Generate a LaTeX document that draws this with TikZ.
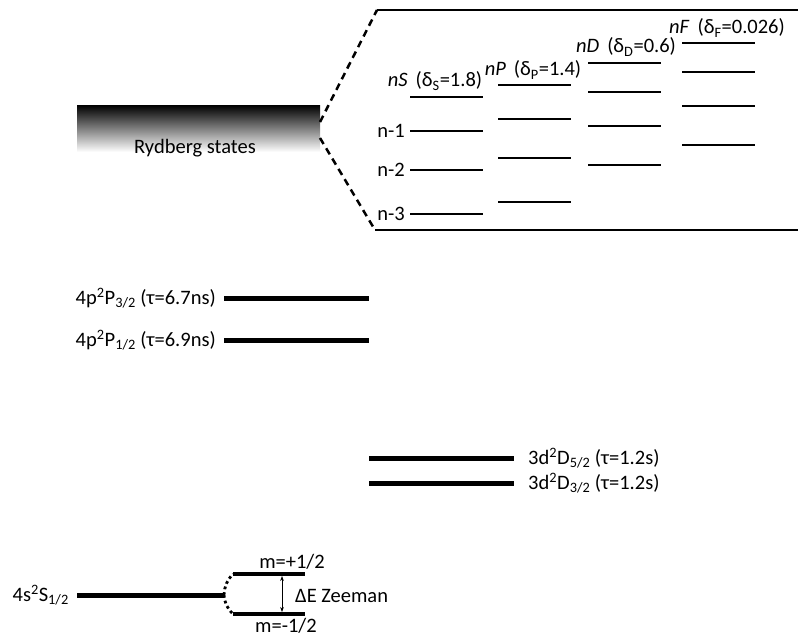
\documentclass[tikz,border=0pt]{standalone}
\usepackage{fontspec}
\setmainfont{Carlito}
\usetikzlibrary{arrows.meta}

\begin{document}
\begin{tikzpicture}[x=1pt, y=-1pt, font=\fontsize{20.5}{24}\selectfont,
  level/.style={line width=5pt},
  rlevel/.style={line width=1.6pt},
  zoomline/.style={line width=2.5pt, dash pattern=on 7pt off 5pt},
  splitline/.style={line width=2.8pt, dash pattern=on 2.8pt off 3pt},
  txt/.style={inner sep=1pt}]
\useasboundingbox (0,0) rectangle (798,637);
%
% Rydberg band and zoomed box
\shade [top color=black, middle color=black!45, bottom color=white] (77,105) rectangle (320,152);
\node [txt] (ryd) at (195,148) {Rydberg states};
\coordinate (bandtop) at (320,122);
\coordinate (bandbot) at (320,138);
\coordinate (boxtl) at (377,10);
\coordinate (boxbl) at (375,230);
\coordinate (boxtr) at (798,10);
\coordinate (boxbr) at (798,230);
\draw [zoomline] (bandtop) -- (boxtl);
\draw [zoomline] (bandbot) -- (boxbl);
\draw [line width=1.6pt] (boxtl) -- (boxtr);
\draw [line width=1.6pt] (boxbl) -- (boxbr);
%
% Rydberg series
\foreach \x/\ya/\yb/\yc/\yd in {410/97/131/170/214, 498/85/119/158/202, 588/63/92/126/165, 682/43/72/106/145}
  \foreach \y in {\ya,\yb,\yc,\yd}
    \draw [rlevel] (\x,\y) -- ++(73,0);
\node [txt] (nS) at (435,81) {\textit{nS}\, (δ\textsubscript{S}=1.8)};
\node [txt] (nP) at (533,70) {\textit{nP}\, (δ\textsubscript{P}=1.4)};
\node [txt] (nD) at (626,47) {\textit{nD}\, (δ\textsubscript{D}=0.6)};
\node [txt] (nF) at (727,28) {\textit{nF}\, (δ\textsubscript{F}=0.026)};
\node [txt, anchor=east] (n1) at (406,131) {n-1};
\node [txt, anchor=east] (n2) at (406,170) {n-2};
\node [txt, anchor=east] (n3) at (406,214) {n-3};
%
% 4p levels
\draw [level] (224,298) -- (369,298);
\draw [level] (224,340) -- (369,340);
\node [txt, anchor=east] (p32) at (217,298) {4p\textsuperscript{2}P\textsubscript{3/2} (τ=6.7ns)};
\node [txt, anchor=east] (p12) at (217,340) {4p\textsuperscript{2}P\textsubscript{1/2} (τ=6.9ns)};
%
% 3d levels
\draw [level] (369,458) -- (514,458);
\draw [level] (369,483) -- (514,483);
\node [txt, anchor=west] (d52) at (527,458) {3d\textsuperscript{2}D\textsubscript{5/2} (τ=1.2s)};
\node [txt, anchor=west] (d32) at (527,483) {3d\textsuperscript{2}D\textsubscript{3/2} (τ=1.2s)};
%
% ground state and Zeeman splitting
\draw [level] (77,595) -- (223,595);
\node [txt, anchor=east] (s12) at (70,595) {4s\textsuperscript{2}S\textsubscript{1/2}};
\coordinate (split) at (224,595);
\coordinate (mup) at (233,574);
\coordinate (mlo) at (233,614);
\draw [splitline] (split) to [bend left=20] (mup);
\draw [splitline] (split) to [bend right=20] (mlo);
\draw [line width=3.5pt] (mup) -- (305,574);
\draw [line width=3.5pt] (mlo) -- (305,614);
\coordinate (zu) at (282,576);
\coordinate (zl) at (282,612);
\draw [{Stealth[length=5pt]}-{Stealth[length=5pt]}, line width=1pt] (zu) -- (zl);
\node [txt] (mp) at (292,562) {m=+1/2};
\node [txt] (mm) at (286,626) {m=-1/2};
\node [txt, anchor=west] (dE) at (294,596) {ΔE Zeeman};
%%%%%%%%%%%%%%%%%%%%%%%%%%%%%%%
\end{tikzpicture}
\end{document}
